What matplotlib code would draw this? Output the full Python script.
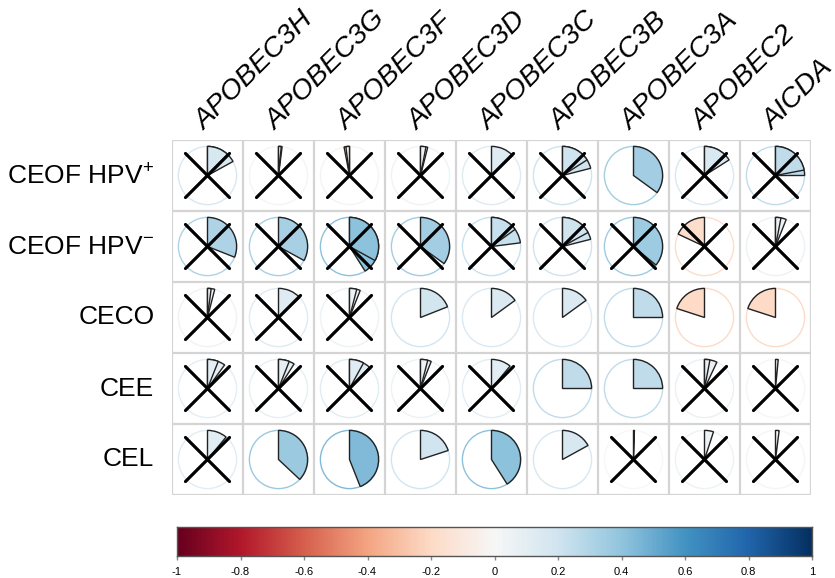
import numpy as np
import matplotlib.pyplot as plt
from matplotlib.patches import Wedge, Circle

plt.rcParams['font.family'] = ['Liberation Sans', 'DejaVu Sans']
plt.rcParams['mathtext.fontset'] = 'custom'
plt.rcParams['mathtext.rm'] = 'Liberation Sans'

# Genes (columns) and groups (rows)
genes = ['APOBEC3H', 'APOBEC3G', 'APOBEC3F', 'APOBEC3D', 'APOBEC3C',
         'APOBEC3B', 'APOBEC3A', 'APOBEC2', 'AICDA']
groups = ['CEOF HPV$^{+}$', 'CEOF HPV$^{-}$', 'CECO', 'CEE', 'CEL']

# correlation (outer edge of the pie)
corr = np.array([
    [0.17, 0.02, -0.03, 0.04, 0.13, 0.21, 0.35, 0.16, 0.25],
    [0.31, 0.33, 0.41, 0.35, 0.23, 0.21, 0.36, -0.18, 0.06],
    [0.04, 0.13, 0.06, 0.19, 0.15, 0.15, 0.25, -0.20, -0.20],
    [0.10, 0.09, 0.12, 0.06, 0.11, 0.25, 0.25, 0.07, 0.015],
    [0.11, 0.37, 0.44, 0.20, 0.41, 0.17, 0.005, 0.05, 0.02],
])
# second (ghost) edge visible inside some pies
corr_inner = np.array([
    [0.12, 0.015, -0.02, 0.03, 0.13, 0.16, 0.35, 0.13, 0.22],
    [0.31, 0.33, 0.33, 0.35, 0.15, 0.17, 0.36, -0.18, 0.03],
    [0.02, 0.13, 0.04, 0.19, 0.15, 0.15, 0.25, -0.20, -0.20],
    [0.06, 0.06, 0.08, 0.04, 0.11, 0.25, 0.25, 0.03, 0.015],
    [0.11, 0.37, 0.44, 0.20, 0.41, 0.17, 0.005, 0.05, 0.02],
])
# 1 = significant (no cross)
signif = np.array([
    [0, 0, 0, 0, 0, 0, 1, 0, 0],
    [0, 0, 0, 0, 0, 0, 0, 0, 0],
    [0, 0, 0, 1, 1, 1, 1, 1, 1],
    [0, 0, 0, 0, 0, 1, 1, 0, 0],
    [0, 1, 1, 1, 1, 1, 0, 0, 0],
])

cbar_ticks = [-1, -0.8, -0.6, -0.4, -0.2, 0, 0.2, 0.4, 0.6, 0.8, 1]

cmap = plt.get_cmap('RdBu')
nrow, ncol = corr.shape

fig = plt.figure(figsize=(8.35, 5.78), dpi=100)
W, H = 835, 578
ax = fig.add_axes([172 / W, 1 - 495 / H, 639 / W, 355 / H])
ax.set_xlim(0, ncol)
ax.set_ylim(0, nrow)
ax.set_aspect('equal')
ax.axis('off')

# grid
for i in range(ncol + 1):
    ax.plot([i, i], [0, nrow], color='#d4d4d4', lw=1.6, zorder=1)
for j in range(nrow + 1):
    ax.plot([0, ncol], [j, j], color='#d4d4d4', lw=1.6, zorder=1)

R = 0.41


def sector(cx, cy, r, col):
    ang = 360 * abs(r)
    if r >= 0:
        t1, t2 = 90 - ang, 90
    else:
        t1, t2 = 90, 90 + ang
    ax.add_patch(Wedge((cx, cy), R, t1, t2, facecolor=col,
                       edgecolor='#222222', lw=1.0, zorder=3))


for i in range(nrow):
    for j in range(ncol):
        cx, cy = j + 0.5, nrow - i - 0.5
        r = corr[i, j]
        col = cmap((r + 1) / 2)
        ax.add_patch(Circle((cx, cy), R, facecolor='none', edgecolor=col,
                            lw=1.0, zorder=2))
        sector(cx, cy, r, col)
        if corr_inner[i, j] != r:
            sector(cx, cy, corr_inner[i, j], col)
        if not signif[i, j]:
            d = 0.31
            ax.plot([cx - d, cx + d], [cy - d, cy + d], color='black',
                    lw=2.3, zorder=4, solid_capstyle='round')
            ax.plot([cx - d, cx + d], [cy + d, cy - d], color='black',
                    lw=2.3, zorder=4, solid_capstyle='round')

# labels
for i, g in enumerate(groups):
    ax.text(-0.25, nrow - i - 0.5, g, ha='right', va='center',
            fontsize=19, color='black')
for j, g in enumerate(genes):
    ax.text(j + 0.45, nrow + 0.13, g, ha='left', va='baseline',
            rotation=45, rotation_mode='anchor', fontsize=20.5,
            style='italic', color='black', clip_on=False)

# colour bar
cax = fig.add_axes([177 / W, 1 - 556 / H, 635 / W, 29 / H])
grad = np.linspace(-1, 1, 512).reshape(1, -1)
cax.imshow(grad, cmap=cmap, aspect='auto', extent=[-1, 1, 0, 1],
           vmin=-1, vmax=1)
cax.set_yticks([])
cax.set_xticks(cbar_ticks)
cax.set_xticklabels(['%g' % t for t in cbar_ticks], fontsize=8)
cax.tick_params(axis='x', length=3, width=1, color='#888888', pad=5)
for s in cax.spines.values():
    s.set_color('#555555')
    s.set_linewidth(1.0)

fig.savefig('out.png', dpi=100)
